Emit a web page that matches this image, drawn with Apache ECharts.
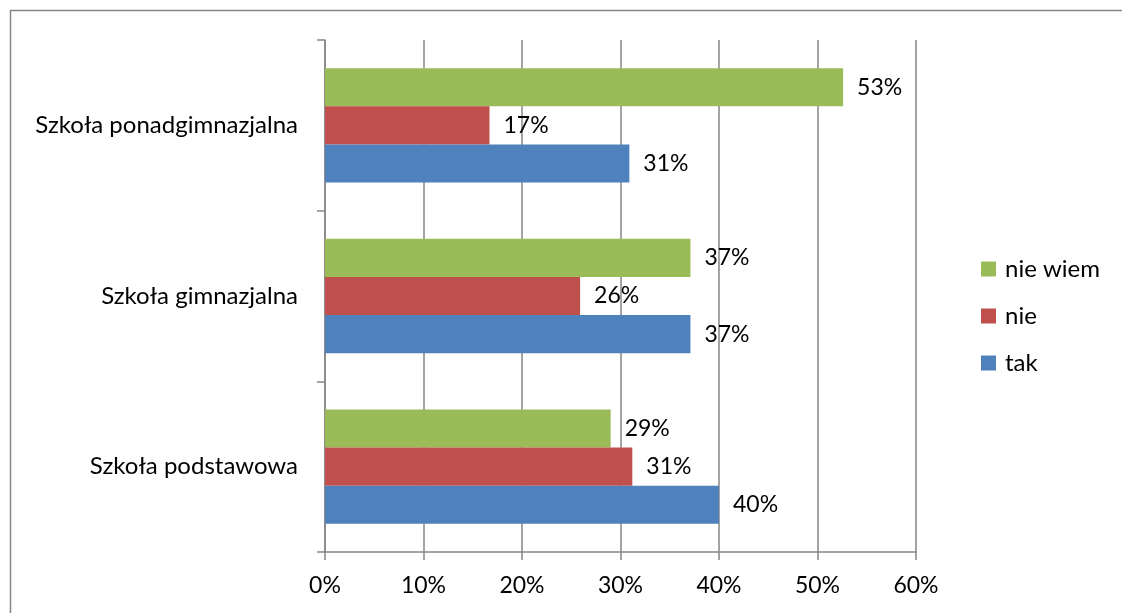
<!DOCTYPE html>
<html>
<head>
<meta charset="utf-8">
<script src="https://cdn.jsdelivr.net/npm/echarts@6/dist/echarts.min.js"></script>
<style>html,body{margin:0;padding:0;background:#fff;}#c{width:1122px;height:613px;}</style>
</head>
<body>
<div id="c"></div>
<script>
var categories = ['Szkoła podstawowa', 'Szkoła gimnazjalna', 'Szkoła ponadgimnazjalna'];
var seriesNames = ['tak', 'nie', 'nie wiem'];
var tak = [40.0, 37.1, 30.9];
var nie = [31.2, 25.9, 16.7];
var nieWiem = [29.0, 37.1, 52.6];
var xTicks = [0, 10, 20, 30, 40, 50, 60];
var colors = ['#4F81BD', '#C0504D', '#9BBB59'];
var FONT = 'Lato';
var TXT = 24;
var NUM = 23;

var chart = echarts.init(document.getElementById('c'), null, {renderer: 'canvas'});
function mk(name, data, color) {
  return {
    name: name, type: 'bar', data: data, barGap: '0%', barCategoryGap: '33%',
    itemStyle: {color: color},
    label: {show: true, position: 'right', distance: 14, color: '#000', fontFamily: FONT, fontSize: NUM,
      formatter: function (p) { return Math.round(p.value) + '%'; }},
    emphasis: {disabled: true}, animation: false
  };
}
chart.setOption({
  animation: false,
  textStyle: {fontFamily: FONT},
  graphic: [{type: 'rect', shape: {x: 10.5, y: 10.5, width: 1200, height: 700}, style: {fill: 'none', stroke: '#868686', lineWidth: 1.5}, silent: true}],
  grid: {left: 325, right: 206, top: 40, bottom: 61, containLabel: false},
  legend: {
    orient: 'vertical', left: 976, top: 252, itemGap: 23, itemWidth: 15, itemHeight: 15,
    icon: 'rect', data: ['nie wiem', 'nie', 'tak'],
    textStyle: {fontFamily: FONT, fontSize: TXT, color: '#000', padding: [0, 0, 0, 4]}
  },
  xAxis: {
    type: 'value', min: 0, max: 60, interval: 10,
    axisLine: {show: true, lineStyle: {color: '#868686', width: 1.5}},
    axisTick: {show: true, length: 8, lineStyle: {color: '#868686', width: 1.5}},
    splitLine: {show: true, lineStyle: {color: '#868686', width: 1.5}},
    axisLabel: {margin: 22, color: '#000', fontFamily: FONT, fontSize: NUM, formatter: function (v) { return v + '%'; }}
  },
  yAxis: {
    type: 'category', data: categories,
    axisLine: {show: true, lineStyle: {color: '#868686', width: 1.5}},
    axisTick: {show: true, length: 8, lineStyle: {color: '#868686', width: 1.5}},
    axisLabel: {margin: 27, color: '#000', fontFamily: FONT, fontSize: TXT}
  },
  series: [mk(seriesNames[2], nieWiem, colors[2]), mk(seriesNames[1], nie, colors[1]), mk(seriesNames[0], tak, colors[0])]
});
</script>
</body>
</html>
